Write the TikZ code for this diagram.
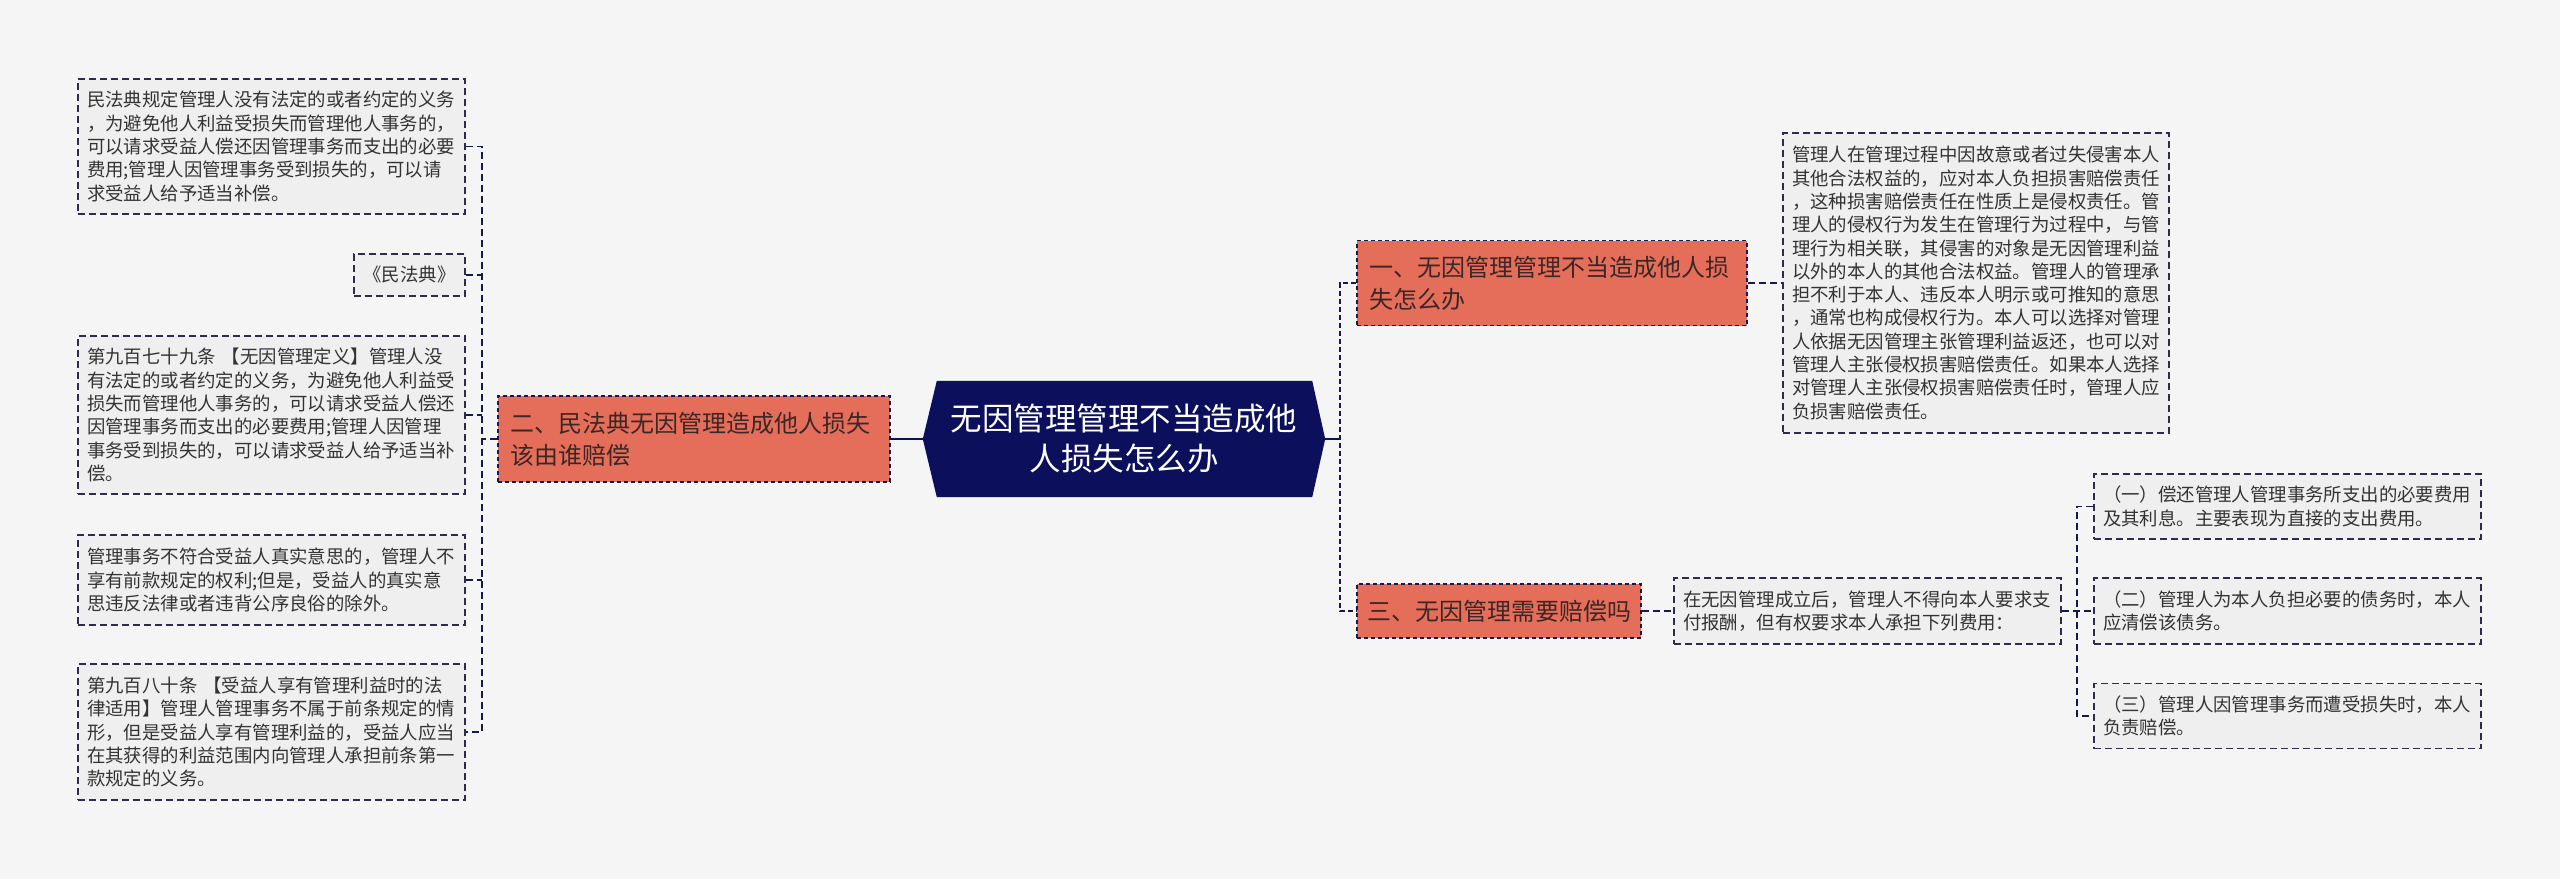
\documentclass[tikz,border=0pt]{standalone}
\usepackage{fontspec}
\setmainfont{Noto Sans CJK SC}
\usetikzlibrary{backgrounds}
\definecolor{bgc}{RGB}{245,245,245}
\definecolor{leaffill}{RGB}{239,239,239}
\definecolor{leafline}{RGB}{45,45,75}
\definecolor{leaftext}{RGB}{51,51,51}
\definecolor{orangefill}{RGB}{229,110,90}
\definecolor{branchtext}{RGB}{60,38,38}
\definecolor{navyc}{RGB}{12,16,92}
\definecolor{connc}{RGB}{22,24,80}
\tikzset{
  leafbox/.style={draw=leafline, fill=leaffill, dash pattern=on 7pt off 4pt, line width=1.5pt,
    text=leaftext, font=\fontsize{18.4}{23.3}\selectfont, align=left, inner xsep=9pt, inner ysep=0pt,
    text width=369pt, anchor=center},
  smallleaf/.style={draw=leafline, fill=leaffill, dash pattern=on 7pt off 4pt, line width=1.5pt,
    text=leaftext, font=\fontsize{18.4}{23.3}\selectfont, inner sep=0pt, anchor=center},
  branchbox/.style={draw=connc, fill=orangefill, dash pattern=on 4pt off 3pt, line width=1.8pt,
    text=branchtext, font=\fontsize{24}{32}\selectfont, align=left, inner xsep=12pt, inner ysep=0pt, anchor=center},
  centralbox/.style={text=white, font=\fontsize{31.5}{40}\selectfont, align=center,
    minimum width=402pt, minimum height=116pt, inner sep=0pt, anchor=center},
  conn/.style={draw=connc, line width=1.6pt, dash pattern=on 7pt off 4pt},
  connb/.style={draw=connc, line width=2.6pt, dash pattern=on 5pt off 3pt},
  trunk/.style={draw=navyc, line width=2.6pt}
}
\begin{document}
\begin{tikzpicture}[x=1pt,y=-1pt]
\useasboundingbox (0,0) rectangle (2560,879);

% central
\node[centralbox] (C) at (1124,439) {无因管理管理不当造成他\\人损失怎么办};

% left branch
\node[branchbox, minimum width=392pt, minimum height=86pt, text width=368pt] (B2) at (694,439)
  {二、民法典无因管理造成他人损失\\该由谁赔偿};

\node[leafbox, minimum height=135pt] (L1) at (271.5,146.5)
  {民法典规定管理人没有法定的或者约定的义务\\，为避免他人利益受损失而管理他人事务的，\\可以请求受益人偿还因管理事务而支出的必要\\费用;管理人因管理事务受到损失的，可以请\\求受益人给予适当补偿。};
\node[smallleaf, minimum width=111pt, minimum height=42pt] (L2) at (409.5,275) {《民法典》};
\node[leafbox, minimum height=158pt] (L3) at (271.5,415)
  {第九百七十九条 【无因管理定义】管理人没\\有法定的或者约定的义务，为避免他人利益受\\损失而管理他人事务的，可以请求受益人偿还\\因管理事务而支出的必要费用;管理人因管理\\事务受到损失的，可以请求受益人给予适当补\\偿。};
\node[leafbox, minimum height=90pt] (L4) at (271.5,580)
  {管理事务不符合受益人真实意思的，管理人不\\享有前款规定的权利;但是，受益人的真实意\\思违反法律或者违背公序良俗的除外。};
\node[leafbox, minimum height=136pt] (L5) at (271.5,732)
  {第九百八十条 【受益人享有管理利益时的法\\律适用】管理人管理事务不属于前条规定的情\\形，但是受益人享有管理利益的，受益人应当\\在其获得的利益范围内向管理人承担前条第一\\款规定的义务。};

% right branches
\node[branchbox, minimum width=390pt, minimum height=85pt, text width=366pt] (B1) at (1552,283)
  {一、无因管理管理不当造成他人损\\失怎么办};
\node[branchbox, minimum width=284pt, minimum height=54pt, inner xsep=0pt] (B3) at (1499,611)
  {三、无因管理需要赔偿吗};

\node[leafbox, minimum height=300pt, text width=368pt] (R1) at (1976,283)
  {管理人在管理过程中因故意或者过失侵害本人\\其他合法权益的，应对本人负担损害赔偿责任\\，这种损害赔偿责任在性质上是侵权责任。管\\理人的侵权行为发生在管理行为过程中，与管\\理行为相关联，其侵害的对象是无因管理利益\\以外的本人的其他合法权益。管理人的管理承\\担不利于本人、违反本人明示或可推知的意思\\，通常也构成侵权行为。本人可以选择对管理\\人依据无因管理主张管理利益返还，也可以对\\管理人主张侵权损害赔偿责任。如果本人选择\\对管理人主张侵权损害赔偿责任时，管理人应\\负损害赔偿责任。};

\node[leafbox, minimum height=66pt] (R2) at (1867.5,611)
  {在无因管理成立后，管理人不得向本人要求支\\付报酬，但有权要求本人承担下列费用：};
\node[leafbox, minimum height=65pt] (R3) at (2287.5,506.5)
  {（一）偿还管理人管理事务所支出的必要费用\\及其利息。主要表现为直接的支出费用。};
\node[leafbox, minimum height=66pt] (R4) at (2287.5,611)
  {（二）管理人为本人负担必要的债务时，本人\\应清偿该债务。};
\node[leafbox, minimum height=65pt] (R5) at (2287.5,716)
  {（三）管理人因管理事务而遭受损失时，本人\\负责赔偿。};

% bus coordinates
\coordinate (lbus) at (482,439);
\coordinate (rbus) at (1340,439);
\coordinate (rbus2) at (2077,611);

% connectors
\draw[trunk] (C.west) -- (B2.east);
\draw[trunk] (C.east) -- (rbus);

\draw[conn] (L1.east) -- (L1.east -| lbus) -- (L5.east -| lbus) -- (L5.east);
\draw[conn] (L2.east) -- (L2.east -| lbus);
\draw[conn] (L3.east) -- (L3.east -| lbus);
\draw[conn] (L4.east) -- (L4.east -| lbus);
\draw[conn] (B2.west) -- (lbus);

\draw[connb] (B1.west) -- (B1.west -| rbus) -- (B3.west -| rbus) -- (B3.west);
\draw[conn] (B1.east) -- (R1.west);
\draw[conn] (B3.east) -- (R2.west);

\draw[conn] (R3.west) -- (R3.west -| rbus2) -- (R5.west -| rbus2) -- (R5.west);
\draw[conn] (R2.east) -- (R4.west);

\begin{scope}[on background layer]
\fill[bgc] (0,0) rectangle (2560,879);
\fill[navyc] (C.west) -- ([xshift=14pt]C.north west) -- ([xshift=-13pt]C.north east) -- (C.east)
  -- ([xshift=-13pt]C.south east) -- ([xshift=14pt]C.south west) -- cycle;
\end{scope}
\end{tikzpicture}
\end{document}
